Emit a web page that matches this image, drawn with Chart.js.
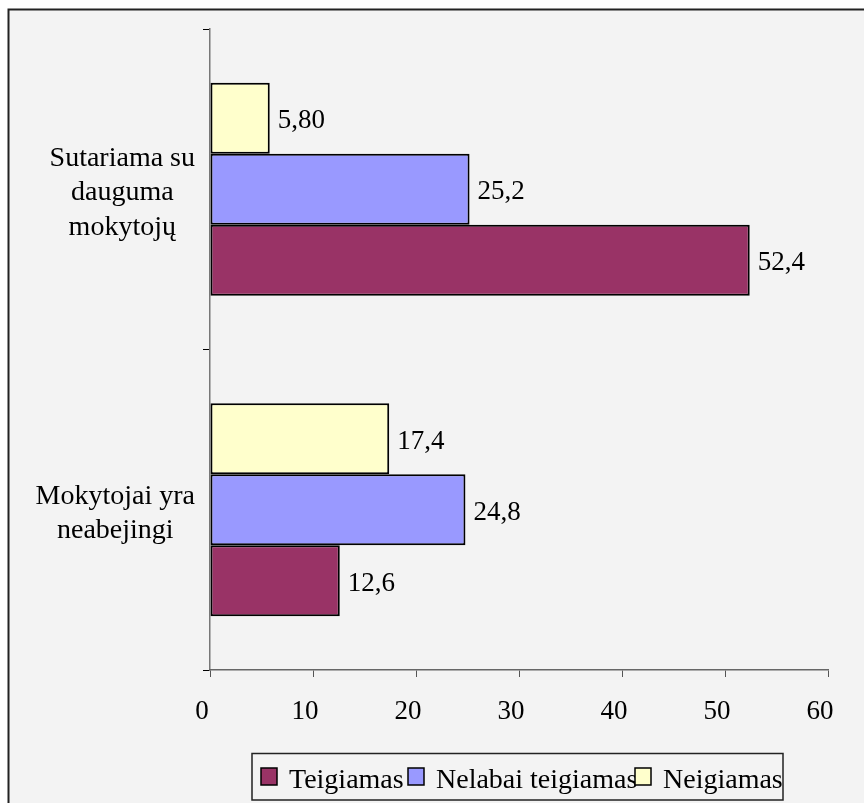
<!DOCTYPE html>
<html>
<head>
<meta charset="utf-8">
<script src="https://cdn.jsdelivr.net/npm/chart.js@4.4.1/dist/chart.umd.min.js"></script>
<style>
  html, body { margin: 0; padding: 0; background: #fff; overflow: hidden; }
  canvas { display: block; }
</style>
</head>
<body>
<canvas id="c" width="864" height="803"></canvas>
<script>
// ---- Data ----
const categories = [['Sutariama su', 'dauguma', 'mokytojų'], ['Mokytojai yra', 'neabejingi']];
const seriesNames = ['Teigiamas', 'Nelabai teigiamas', 'Neigiamas'];
const teigiamas = [52.4, 12.6];
const nelabaiTeigiamas = [25.2, 24.8];
const neigiamas = [5.80, 17.4];
const teigiamasLabels = ['52,4', '12,6'];
const nelabaiTeigiamasLabels = ['25,2', '24,8'];
const neigiamasLabels = ['5,80', '17,4'];
const xMin = 0, xMax = 60, xStep = 10;

const FONT = "'Liberation Serif', 'Times New Roman', serif";

// datasets listed top-to-bottom within each category
const datasets = [
  { label: seriesNames[2], data: neigiamas, valueLabels: neigiamasLabels, backgroundColor: '#FFFFCC', legendOrder: 2 },
  { label: seriesNames[1], data: nelabaiTeigiamas, valueLabels: nelabaiTeigiamasLabels, backgroundColor: '#9999FF', legendOrder: 1 },
  { label: seriesNames[0], data: teigiamas, valueLabels: teigiamasLabels, backgroundColor: '#993366', legendOrder: 0 }
].map(d => Object.assign(d, {
  borderColor: '#000', borderWidth: 2, borderSkipped: false,
  categoryPercentage: 0.665, barPercentage: 1
}));

const bgPlugin = {
  id: 'bg',
  beforeDraw(chart) {
    const ctx = chart.ctx;
    ctx.save();
    ctx.fillStyle = '#fff';
    ctx.fillRect(0, 0, chart.width, chart.height);
    ctx.fillStyle = '#F3F3F3';
    ctx.fillRect(8, 9, chart.width, chart.height);
    ctx.strokeStyle = '#222';
    ctx.lineWidth = 2;
    ctx.strokeRect(8.5, 9.5, chart.width + 20, chart.height + 20);
    ctx.restore();
  }
};

const catLabelPlugin = {
  id: 'catLabels',
  afterDraw(chart) {
    const ctx = chart.ctx;
    const ys = chart.scales.y;
    ctx.save();
    ctx.font = '28px ' + FONT;
    ctx.fillStyle = '#000';
    ctx.textAlign = 'center';
    ctx.textBaseline = 'alphabetic';
    chart.data.labels.forEach((lines, i) => {
      const cy = ys.getPixelForTick(i);
      const w = Math.max(...lines.map(l => ctx.measureText(l).width));
      const cx = 195 - w / 2;
      const n = lines.length;
      lines.forEach((l, j) => {
        ctx.fillText(l, cx, cy + (j - (n - 1) / 2) * 34.5 + 11);
      });
    });
    ctx.restore();
  }
};

const valueLabelPlugin = {
  id: 'valueLabels',
  afterDatasetsDraw(chart) {
    const ctx = chart.ctx;
    ctx.save();
    ctx.font = '27px ' + FONT;
    ctx.fillStyle = '#000';
    ctx.textAlign = 'left';
    ctx.textBaseline = 'alphabetic';
    chart.data.datasets.forEach((ds, di) => {
      const meta = chart.getDatasetMeta(di);
      meta.data.forEach((el, i) => {
        ctx.fillText(ds.valueLabels[i], el.x + 8, el.y + 10);
      });
    });
    ctx.restore();
  }
};

const legendPlugin = {
  id: 'customLegend',
  afterDraw(chart) {
    const ctx = chart.ctx;
    ctx.save();
    ctx.fillStyle = '#F3F3F3';
    ctx.fillRect(252, 753.5, 531, 46.5);
    ctx.strokeStyle = '#222';
    ctx.lineWidth = 1.5;
    ctx.strokeRect(252, 753.5, 531, 46.5);
    const items = chart.data.datasets.slice().sort((a, b) => a.legendOrder - b.legendOrder);
    const xs = [261, 408, 635];
    ctx.font = '28px ' + FONT;
    ctx.textBaseline = 'alphabetic';
    ctx.textAlign = 'left';
    items.forEach((ds, k) => {
      const x = xs[k];
      ctx.fillStyle = ds.backgroundColor;
      ctx.fillRect(x, 768, 16, 17);
      ctx.strokeStyle = '#000';
      ctx.lineWidth = 1.5;
      ctx.strokeRect(x, 768, 16, 17);
      ctx.fillStyle = '#000';
      ctx.fillText(ds.label, x + 28, 787.5);
    });
    ctx.restore();
  }
};

new Chart(document.getElementById('c'), {
  type: 'bar',
  data: { labels: categories, datasets: datasets },
  options: {
    indexAxis: 'y',
    responsive: false,
    animation: false,
    devicePixelRatio: 1,
    layout: { padding: { top: 29, right: 36, left: 0, bottom: 0 } },
    plugins: { legend: { display: false }, tooltip: { enabled: false } },
    scales: {
      y: {
        type: 'category',
        offset: true,
        grid: { offset: true, drawOnChartArea: false, drawTicks: true, tickLength: 7, color: '#000', lineWidth: 1 },
        border: { display: true, color: '#777', width: 1.5 },
        ticks: { display: false },
        afterFit(scale) { scale.width = 210; }
      },
      x: {
        type: 'linear',
        min: xMin, max: xMax,
        grid: { drawOnChartArea: false, drawTicks: true, tickLength: 7, color: '#555', lineWidth: 1 },
        border: { display: true, color: '#666', width: 1.5 },
        ticks: { stepSize: xStep, color: '#000', font: { family: FONT, size: 27 }, padding: 19, labelOffset: -8, maxRotation: 0 },
        afterFit(scale) { scale.height = 133; }
      }
    }
  },
  plugins: [bgPlugin, valueLabelPlugin, catLabelPlugin, legendPlugin]
});
</script>
</body>
</html>
